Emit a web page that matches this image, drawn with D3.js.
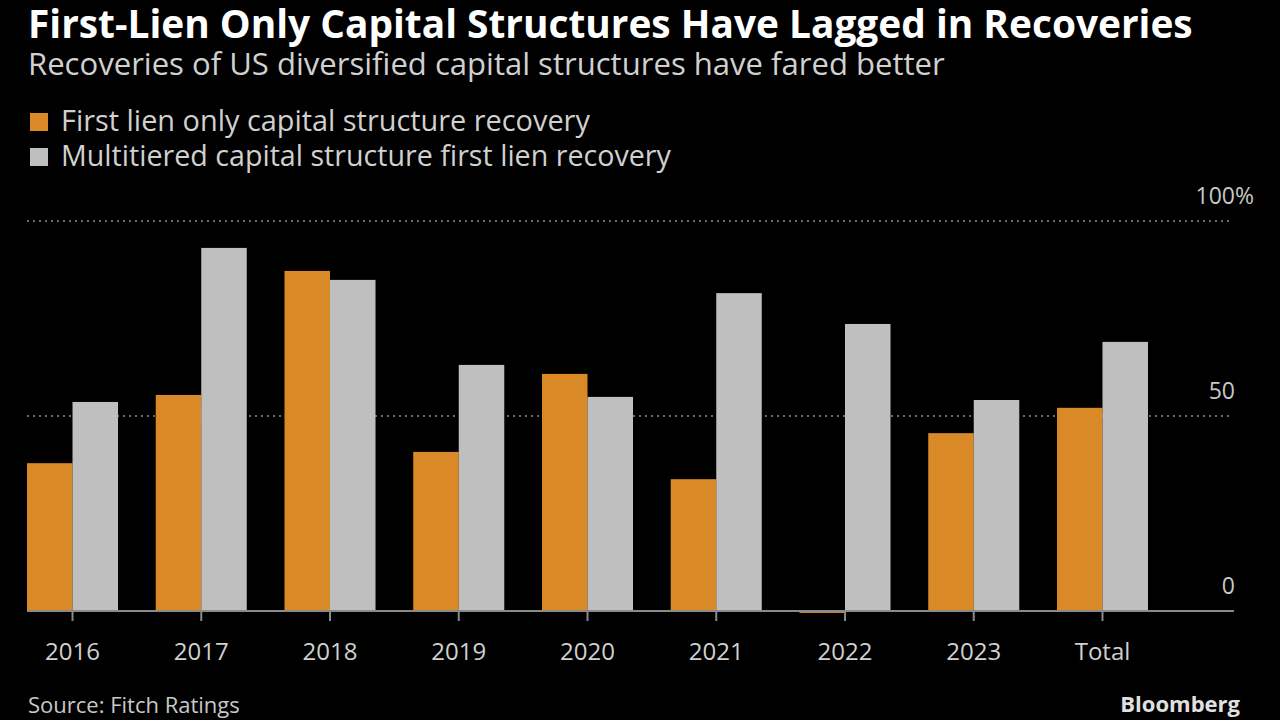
<!DOCTYPE html>
<html><head><meta charset="utf-8">
<script src="https://cdn.jsdelivr.net/npm/d3@7"></script>
<style>
html,body{margin:0;padding:0;background:#000;}
svg{display:block;}
</style></head>
<body>
<svg id="chart" width="1280" height="720"></svg>
<script>
const categories = ["2016","2017","2018","2019","2020","2021","2022","2023","Total"];
const firstLienOnly = [37.9, 55.4, 87.2, 40.8, 60.8, 33.8, -0.5, 45.6, 52.1];
const multitiered = [53.6, 93.1, 84.9, 63.1, 54.9, 81.5, 73.6, 54.1, 69.0];
const seriesNames = ["First lien only capital structure recovery", "Multitiered capital structure first lien recovery"];
const yTicks = [0, 50, 100];

const colors = ["#d98a26", "#bfbfbf"];
const font = "'Open Sans', 'Noto Sans', sans-serif";
const svg = d3.select("#chart");
svg.append("rect").attr("width",1280).attr("height",720).attr("fill","#000");

const plotLeft = 27, plotRight = 1234, plotTop = 221, plotBottom = 611;
const x0 = d3.scaleBand().domain(categories).range([plotLeft, 1148]).paddingInner(0.293).paddingOuter(0);
const x1 = d3.scaleBand().domain([0,1]).range([0, x0.bandwidth()]);
const y = d3.scaleLinear().domain([0,100]).range([plotBottom, plotTop]);

function fitText(sel, target){
  const n = sel.node();
  const w = n.getComputedTextLength();
  const fs = parseFloat(sel.attr("font-size"));
  sel.attr("font-size", (fs*target/w).toFixed(2));
}

// Title
const t = svg.append("text").attr("x",28).attr("y",38).attr("font-family",font).attr("font-weight","bold")
  .attr("font-size",30).attr("fill","#ffffff").text("First-Lien Only Capital Structures Have Lagged in Recoveries");
fitText(t, 1165);
const st = svg.append("text").attr("x",28).attr("y",75).attr("font-family",font)
  .attr("font-size",25).attr("fill","#d0d0d0").text("Recoveries of US diversified capital structures have fared better");
fitText(st, 917);

// Legend
const legendY = [122, 157];
const legendW = [529, 610];
seriesNames.forEach((name,i)=>{
  svg.append("rect").attr("x",30).attr("y",legendY[i]-9).attr("width",18).attr("height",18).attr("fill",colors[i]);
  const lt = svg.append("text").attr("x",61).attr("y",legendY[i]+9).attr("font-family",font)
    .attr("font-size",24).attr("fill","#d0d0d0").text(name);
  fitText(lt, legendW[i]);
});

// Gridlines
svg.append("g").selectAll("line").data(yTicks.filter(d=>d>0)).join("line")
  .attr("x1",plotLeft).attr("x2",1232).attr("y1",d=>y(d)).attr("y2",d=>y(d))
  .attr("stroke","#6a6a6a").attr("stroke-width",2).attr("stroke-dasharray","2,4");

// Y labels
const yl = svg.append("g");
yTicks.forEach(d=>{
  yl.append("text").attr("x",1235).attr("y",y(d)-17).attr("text-anchor","end")
    .attr("font-family",font).attr("font-size",23).attr("fill","#c8c8c8").text(d);
  if(d===100){
    yl.append("text").attr("x",1235).attr("y",y(d)-17).attr("font-family",font)
      .attr("font-size",23).attr("fill","#c8c8c8").text("%");
  }
});

// Bars
const data = categories.map((c,i)=>({cat:c, vals:[firstLienOnly[i], multitiered[i]]}));
const g = svg.append("g");
g.selectAll("g").data(data).join("g")
  .attr("transform",d=>`translate(${x0(d.cat)},0)`)
  .selectAll("rect").data(d=>d.vals.map((v,i)=>({v,i}))).join("rect")
  .attr("x",d=>x1(d.i)).attr("width",x1.bandwidth())
  .attr("y",d=>y(Math.max(0,d.v))).attr("height",d=>Math.abs(y(d.v)-y(0)))
  .attr("fill",d=>colors[d.i]);

// Zero axis
svg.append("line").attr("x1",plotLeft).attr("x2",plotRight).attr("y1",y(0)).attr("y2",y(0))
  .attr("stroke","#8a8a8a").attr("stroke-width",2);

// X axis ticks + labels
const xa = svg.append("g");
categories.forEach(c=>{
  const cx = x0(c) + x0.bandwidth()/2;
  xa.append("line").attr("x1",cx).attr("x2",cx).attr("y1",y(0)).attr("y2",y(0)+10)
    .attr("stroke","#8a8a8a").attr("stroke-width",2);
  xa.append("text").attr("x",cx).attr("y",660).attr("text-anchor","middle")
    .attr("font-family",font).attr("font-size",24).attr("fill","#d0d0d0").text(c);
});

// Footer
svg.append("text").attr("x",28).attr("y",713).attr("font-family",font).attr("font-size",22)
  .attr("fill","#c8c8c8").text("Source: Fitch Ratings");
svg.append("text").attr("x",1240).attr("y",712).attr("text-anchor","end").attr("font-family",font)
  .attr("font-weight","bold").attr("font-size",22).attr("fill","#e0e0e0").text("Bloomberg");
</script>
</body></html>
